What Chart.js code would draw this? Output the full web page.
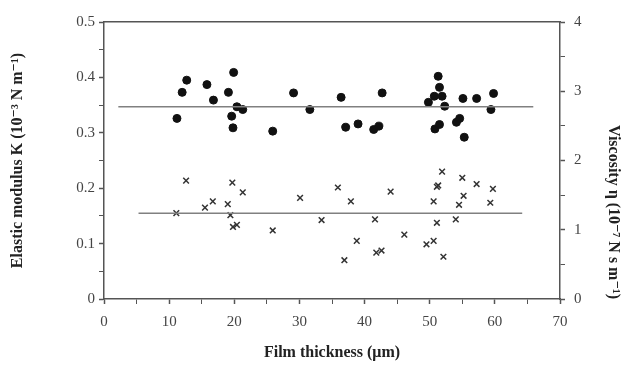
<!DOCTYPE html>
<html>
<head>
<meta charset="utf-8">
<script src="https://cdn.jsdelivr.net/npm/chart.js@4"></script>
<style>
html,body{margin:0;padding:0;background:#fff;}
#wrap{width:641px;height:365px;position:relative;}
</style>
</head>
<body>
<div id="wrap"><canvas id="c" width="641" height="365"></canvas></div>
<script>
// Film thickness (µm) and elastic modulus K (left axis)
const kThickness = [12.7,12.0,11.2,15.8,16.8,19.1,19.9,19.6,19.8,20.4,21.3,25.9,29.1,31.6,36.4,37.1,39.0,41.4,42.2,42.7,49.8,50.7,51.3,51.5,51.9,52.3,50.8,51.5,54.1,54.6,55.1,55.3,57.2,59.4,59.8];
const kValues    = [0.395,0.373,0.326,0.387,0.359,0.373,0.409,0.330,0.309,0.347,0.342,0.303,0.372,0.342,0.364,0.310,0.316,0.306,0.312,0.372,0.355,0.366,0.402,0.382,0.366,0.348,0.307,0.315,0.319,0.326,0.362,0.292,0.362,0.342,0.371];
// Film thickness (µm) and viscosity η (right axis)
const etaThickness = [12.6,11.1,15.5,16.7,19.7,21.3,19.0,19.4,19.8,20.4,25.9,30.1,33.4,35.9,36.9,37.9,38.8,41.6,41.8,42.6,44.0,46.1,49.5,50.6,51.9,51.3,51.1,50.6,51.1,52.1,55.0,57.2,55.2,54.5,54.0,59.7,59.3];
const etaValues    = [1.71,1.24,1.32,1.41,1.68,1.54,1.37,1.21,1.04,1.07,0.99,1.46,1.14,1.61,0.56,1.41,0.84,1.15,0.67,0.70,1.55,0.93,0.79,0.84,1.84,1.64,1.62,1.41,1.10,0.61,1.75,1.66,1.49,1.36,1.15,1.59,1.39];
// Mean (fit) lines
const kFitX = [2.2, 65.9];
const kFitY = [0.347, 0.347];
const etaFitX = [5.3, 64.2];
const etaFitY = [1.24, 1.24];
// Axis labels
const xTitle = 'Film thickness (μm)';
const yLeftTitle = 'Elastic modulus K (10⁻³ N m⁻¹)';
const yRightTitle = 'Viscosity η (10⁻⁷ N s m⁻¹)';

const pts = (xs, ys) => xs.map((x, i) => ({x: x, y: ys[i]}));

const axisColor = '#555';
const tickFont = {family: '"Liberation Serif", "DejaVu Serif", serif', size: 15};
const titleFont = {family: '"Liberation Serif", "DejaVu Serif", serif', size: 16, weight: 'bold'};
const isMult = (v, step) => Math.abs(v / step - Math.round(v / step)) < 1e-6;

new Chart(document.getElementById('c'), {
  type: 'scatter',
  data: {
    datasets: [
      {type: 'line', data: pts(kFitX, kFitY), yAxisID: 'y', borderColor: '#808080', borderWidth: 1.5, pointRadius: 0, fill: false},
      {type: 'line', data: pts(etaFitX, etaFitY), yAxisID: 'y1', borderColor: '#808080', borderWidth: 1.5, pointRadius: 0, fill: false},
      {data: pts(kThickness, kValues), yAxisID: 'y', pointStyle: 'circle', pointRadius: 4, backgroundColor: '#111', borderColor: '#111', borderWidth: 1},
      {data: pts(etaThickness, etaValues), yAxisID: 'y1', pointStyle: 'crossRot', pointRadius: 4, borderColor: '#333', borderWidth: 1.5}
    ]
  },
  options: {
    responsive: false,
    animation: false,
    layout: {padding: {top: 22, left: 0, right: 0, bottom: 0}},
    plugins: {legend: {display: false}, tooltip: {enabled: false}},
    scales: {
      x: {
        type: 'linear', position: 'bottom', min: 0, max: 70,
        afterFit: s => { s.height = 66; },
        ticks: {stepSize: 5, autoSkip: false, maxRotation: 0, padding: 9, color: '#444', font: tickFont,
          callback: v => isMult(v, 10) ? String(v) : ''},
        grid: {drawOnChartArea: false, tickLength: 5, tickColor: axisColor,
          tickWidth: c => (c.tick && isMult(c.tick.value, 10)) ? 1.5 : 1},
        border: {color: axisColor, width: 1.5},
        title: {display: true, text: xTitle, font: titleFont, color: '#222', padding: {top: 0, bottom: 3}}
      },
      x2: {
        type: 'linear', position: 'top', min: 0, max: 70,
        afterFit: s => { s.height = 0; },
        ticks: {display: false},
        grid: {display: false},
        border: {color: axisColor, width: 1.5}
      },
      y: {
        type: 'linear', position: 'left', min: 0, max: 0.5,
        afterFit: s => { s.width = 104; },
        ticks: {stepSize: 0.05, autoSkip: false, padding: 4, color: '#444', font: tickFont,
          callback: v => isMult(v, 0.1) ? (Math.abs(v) < 1e-9 ? '0' : (Math.round(v * 10) / 10).toFixed(1)) : ''},
        grid: {drawOnChartArea: false, tickLength: 5, tickColor: axisColor,
          tickWidth: c => (c.tick && isMult(c.tick.value, 0.1)) ? 1.5 : 1},
        border: {color: axisColor, width: 1.5},
        title: {display: true, text: yLeftTitle, font: titleFont, color: '#222', padding: {top: 8, bottom: 0}}
      },
      y1: {
        type: 'linear', position: 'right', min: 0, max: 4,
        afterFit: s => { s.width = 81; },
        ticks: {stepSize: 0.5, autoSkip: false, padding: 9, color: '#444', font: tickFont,
          callback: v => isMult(v, 1) ? String(v) : ''},
        grid: {drawOnChartArea: false, tickLength: 5, tickColor: axisColor,
          tickWidth: c => (c.tick && isMult(c.tick.value, 1)) ? 1.5 : 1},
        border: {color: axisColor, width: 1.5},
        title: {display: true, text: yRightTitle, font: titleFont, color: '#222', align: 'start', padding: {top: 18, bottom: 0}}
      }
    }
  }
});
</script>
</body>
</html>
